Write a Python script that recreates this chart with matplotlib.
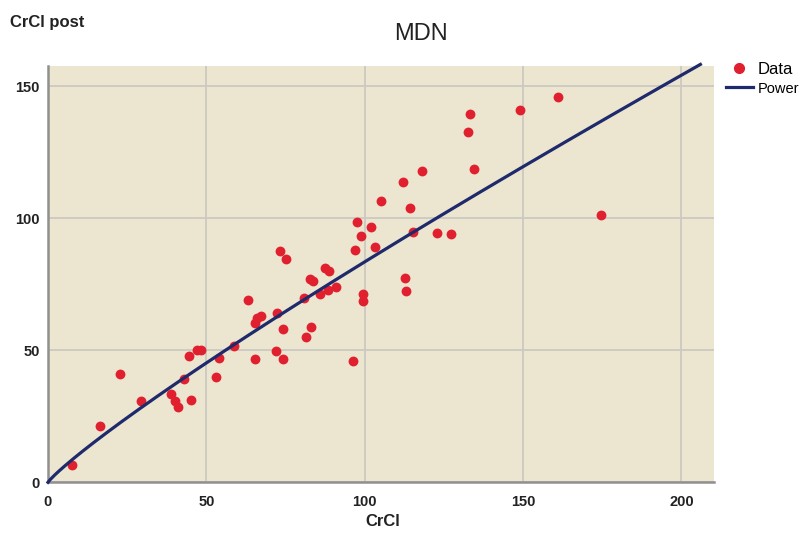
import numpy as np
import matplotlib
matplotlib.use("Agg")
import matplotlib.pyplot as plt
from matplotlib.lines import Line2D

plt.rcParams['font.family'] = ['Liberation Sans', 'DejaVu Sans']

# Data
crcl = [7.7, 16.5, 22.8, 29.5, 38.9, 40.2, 41.2, 42.9, 45.0, 44.6, 47.2, 48.4, 53.1, 54.0, 58.6,
        63.3, 65.3, 65.9, 67.4, 65.3, 72.3, 72.0, 74.3, 74.3, 73.2, 75.1, 80.8, 81.4, 82.9, 82.7,
        83.6, 86.0, 87.4, 88.7, 88.3, 90.9, 96.2, 96.9, 97.6, 98.9, 99.5, 99.5, 102.0, 103.4,
        105.1, 112.2, 112.6, 113.0, 114.3, 115.4, 118.2, 122.7, 127.4, 132.7, 133.2, 134.5,
        148.9, 161.0, 174.7]
crcl_post = [6.7, 21.4, 40.9, 30.8, 33.4, 30.8, 28.5, 39.0, 31.2, 47.8, 50.1, 50.0, 40.0, 47.0, 51.6,
             69.1, 60.5, 62.1, 63.0, 46.8, 64.2, 49.7, 58.0, 46.7, 87.6, 84.4, 69.8, 54.9, 58.9, 77.0,
             76.2, 71.3, 81.3, 80.2, 72.8, 74.1, 45.9, 88.0, 98.6, 93.2, 71.3, 68.8, 96.6, 89.1,
             106.6, 113.7, 77.3, 72.3, 104.0, 94.8, 117.9, 94.5, 94.1, 132.6, 139.6, 118.6,
             140.9, 146.1, 101.1]

# Power fit y = a * x^b (parameters)
fit_a = 1.418
fit_b = 0.885
fit_xmax = 206.0

xticks = [0, 50, 100, 150, 200]
yticks = [0, 50, 100, 150]

fig = plt.figure(figsize=(8.03, 5.38), dpi=100)
ax = fig.add_axes([48/803, 1-482.3/538, (714-48)/803, (482.3-65.7)/538])
ax.set_facecolor("#ECE5CF")

ax.set_xlim(0, 210.3)
ax.set_ylim(0, 157.8)
ax.set_xticks(xticks)
ax.set_yticks(yticks)
ax.grid(True, color="#CBC9C1", linewidth=1.3)
ax.set_axisbelow(True)
for s in ["top", "right"]:
    ax.spines[s].set_visible(False)
for s in ["left", "bottom"]:
    ax.spines[s].set_color("#909090")
    ax.spines[s].set_linewidth(1.8)
ax.tick_params(length=0, labelsize=10.5, pad=6)
for lab in ax.get_xticklabels() + ax.get_yticklabels():
    lab.set_fontweight("bold")
    lab.set_color("#222222")
ax.tick_params(axis="x", pad=9)

ax.scatter(crcl, crcl_post, s=50, color="#E0202F", zorder=3, linewidths=0)
xs = np.linspace(0, fit_xmax, 300)
ax.plot(xs, fit_a * xs ** fit_b, color="#1E2A6C", linewidth=2.3, zorder=4, clip_on=False)

fig.text(421/803, 1-34/538, "MDN", ha="center", va="center", fontsize=17, color="#222222")
fig.text(10/803, 1-22/538, "CrCl post", ha="left", va="center", fontsize=12,
         fontweight="bold", color="#222222")
fig.text(383/803, 1-522/538, "CrCl", ha="center", va="center", fontsize=12,
         fontweight="bold", color="#222222")

handles = [Line2D([], [], marker="o", linestyle="none", color="#E0202F", markersize=7),
           Line2D([], [], color="#1E2A6C", linewidth=2.3)]
leg = fig.legend(handles, ["Data", "Power"], loc="upper left",
                 bbox_to_anchor=(726/803, 1-62/538), frameon=False,
                 handlelength=1.6, handletextpad=0.3, labelspacing=0.25,
                 borderpad=0, borderaxespad=0, fontsize=12)
leg.get_texts()[1].set_fontsize(10.5)

fig.savefig("out.png", dpi=100)
